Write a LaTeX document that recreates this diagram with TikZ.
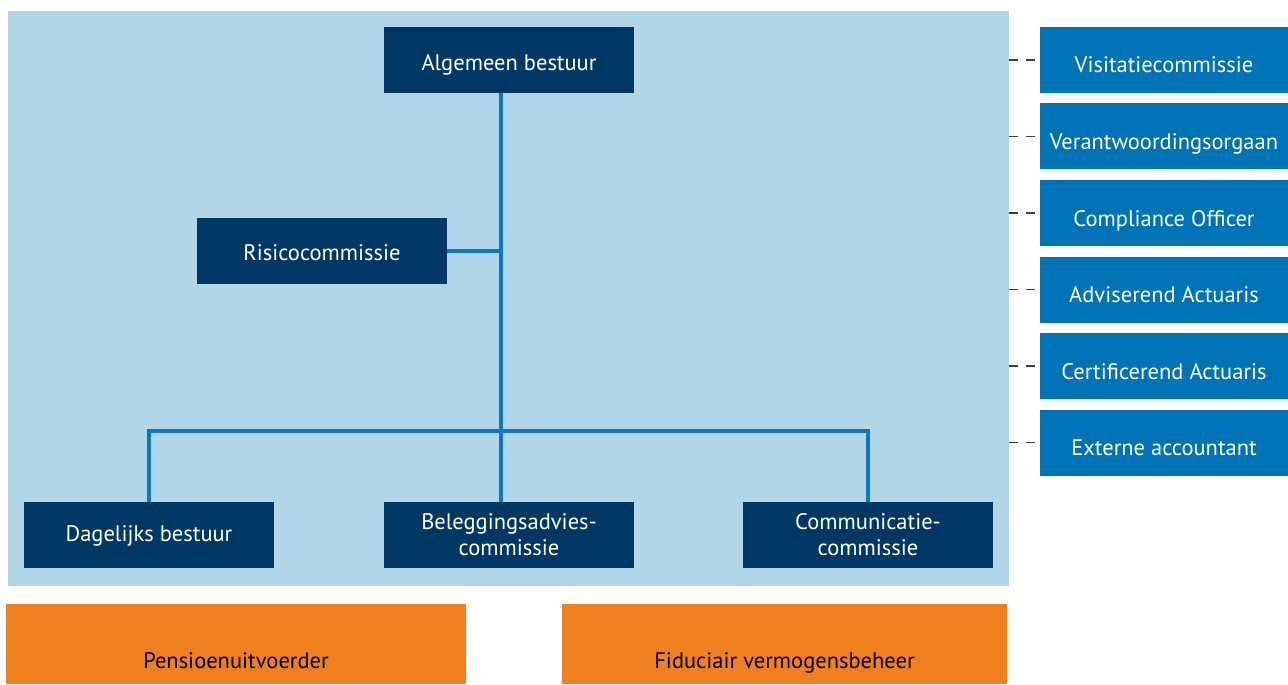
\documentclass[tikz,border=0pt]{standalone}
\usepackage{fontspec}
\setmainfont{PT Sans}
\usepackage{tikz}
\usetikzlibrary{positioning, calc}
\definecolor{boardbg}{RGB}{178, 213, 232}
\definecolor{navy}{RGB}{0, 56, 101}
\definecolor{linkblue}{RGB}{10, 120, 194}
\definecolor{sideblue}{RGB}{0, 114, 182}
\definecolor{uitvoer}{RGB}{238, 128, 31}

\begin{document}
\begin{tikzpicture}[
				node distance=0.196cm and 1.0cm,
				darkbox/.style={rectangle, fill=navy, text=white, minimum width=5cm, minimum height=1.32cm, inner sep=0.1cm, align=center, font=\fontsize{12.8}{14.8}\selectfont},
				sidebox/.style={rectangle, fill=sideblue, text=white, minimum width=4.96cm, minimum height=1.32cm, inner sep=0.1cm, text height=0.52cm, text depth=0pt, align=center, font=\fontsize{12.8}{14.8}\selectfont},
				oneline/.style={text height=#1, text depth=0pt},
				orangebox/.style={rectangle, fill=uitvoer, text=black, minimum height=1.6cm, inner sep=0.1cm, text height=1.18cm, text depth=0.22cm, align=center, font=\fontsize{12.8}{14.8}\selectfont},
				link/.style={draw=linkblue, line width=2.4pt},
				dashlink/.style={draw=black!75, line width=0.6pt, dash pattern=on 0.18cm off 0.16cm}
				]
				\useasboundingbox (0,0) rectangle (25.76,13.68);
				\node[rectangle, fill=boardbg, minimum width=20.02cm, minimum height=11.5cm, inner sep=0pt] (board) at (10.17,7.71) {};
				
				\node[darkbox, oneline=0.44cm] (ab) at (10.18,12.48) {Algemeen bestuur};
				\node[darkbox, oneline=0.38cm] (risico) at (6.44,8.66) {Risicocommissie};
				\node[darkbox, oneline=0.26cm] (db) at (2.98,2.98) {Dagelijks bestuur};
				\node[darkbox] (bac) at (10.18,2.98) {Beleggingsadvies-\\commissie};
				\node[darkbox] (comm) at (17.36,2.98) {Communicatie-\\commissie};
				
				\node[orangebox, minimum width=9.2cm] (pu) at (4.72,0.8) {Pensioenuitvoerder};
				\node[orangebox, minimum width=8.9cm] (fvb) at (15.69,0.8) {Fiduciair vermogensbeheer};
				
				\node[sidebox] (visit) at (23.28,12.48) {Visitatiecommissie};
				\node[sidebox, below=of visit] (vo) {Verantwoordingsorgaan};
				\node[sidebox, below=of vo] (co) {Compliance Officer};
				\node[sidebox, below=of co] (aa) {Adviserend Actuaris};
				\node[sidebox, below=of aa] (ca) {Certificerend Actuaris};
				\node[sidebox, below=of ca] (ea) {Externe accountant};
				
				\coordinate (spine) at (10.02,5.06);
				\draw[link] (ab.south -| spine) -- (bac.north -| spine);
				\draw[link] (risico.east) -- (risico.east -| spine);
				\draw[link] (db.north) |- (spine) -| (comm.north);
				
				\foreach \side in {visit, vo, co, aa, ca, ea}
					\draw[dashlink] (board.east |- \side.west) -- (\side.west);
			\end{tikzpicture}
\end{document}
